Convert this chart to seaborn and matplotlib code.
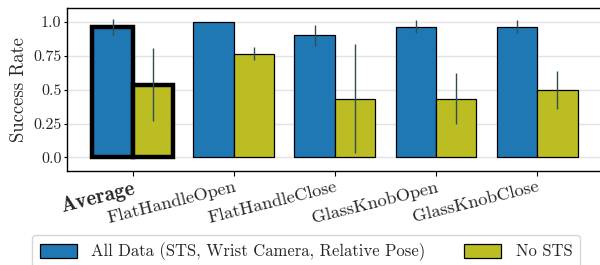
import matplotlib
matplotlib.use("Agg")
import matplotlib.pyplot as plt
import seaborn as sns
import pandas as pd
import numpy as np

categories = ["Average", "FlatHandleOpen", "FlatHandleClose", "GlassKnobOpen", "GlassKnobClose"]
series_names = ["All Data (STS, Wrist Camera, Relative Pose)", "No STS"]
all_data_mean = [0.965, 1.0, 0.90, 0.966, 0.966]
all_data_err = [0.06, 0.0, 0.08, 0.047, 0.047]
no_sts_mean = [0.537, 0.767, 0.434, 0.434, 0.50]
no_sts_err = [0.27, 0.045, 0.40, 0.19, 0.14]
ytick_vals = [0.0, 0.25, 0.5, 0.75, 1.0]
ytick_labels = ["0.0", "0.25", "0.5", "0.75", "1.0"]

sns.set_theme(style="white")
plt.rcParams["font.family"] = ["cmr10", "DejaVu Serif"]
plt.rcParams["mathtext.fontset"] = "cm"
plt.rcParams["axes.unicode_minus"] = False

df = pd.DataFrame({
    "Task": categories * 2,
    "Config": [series_names[0]] * len(categories) + [series_names[1]] * len(categories),
    "Success Rate": all_data_mean + no_sts_mean,
    "err": all_data_err + no_sts_err,
})

fig = plt.figure(figsize=(6.0, 2.65), dpi=100)
ax = fig.add_axes([0.1117, 0.353, 0.893, 0.617])

palette = {series_names[0]: "#1f77b4", series_names[1]: "#bcbd22"}
sns.barplot(data=df, x="Task", y="Success Rate", hue="Config", palette=palette,
            errorbar=None, width=0.8, edgecolor="black", linewidth=0.9,
            saturation=1.0, ax=ax, legend=True)

# error bars positioned at bar centres
n = len(categories)
bars = [p for p in ax.patches if p.get_width() > 0][: 2 * n]
for i, p in enumerate(bars):
    cx = p.get_x() + p.get_width() / 2
    h = p.get_height()
    e = df["err"].iloc[i]
    if e > 0:
        ax.errorbar(cx, h, yerr=e, color="darkslategray", lw=1.0, capsize=0, zorder=5)
    if i % n == 0:
        p.set_linewidth(3.2)

ax.set_xlim(-0.65, 4.65)
ax.set_ylim(-0.103, 1.103)
ax.set_yticks(ytick_vals)
ax.set_yticklabels(ytick_labels, fontsize=11.5)
ax.yaxis.grid(True, color="#e3e3e3", lw=1.0)
ax.set_axisbelow(True)
ax.tick_params(axis="y", length=2, width=0.8, left=True, pad=2, color="black")
ax.tick_params(axis="x", length=3.5, width=0.8, direction="out", bottom=True, pad=2, color="black")
ax.set_xlabel("")
ax.set_ylabel("Success Rate", fontsize=13.5, labelpad=4)

ax.set_xticks(range(n))
ax.set_xticklabels(categories, rotation=14, ha="right", rotation_mode="anchor", fontsize=13.2)
lbl0 = ax.get_xticklabels()[0]
lbl0.set_fontfamily("cmb10")
lbl0.set_fontsize(15)

for s in ["left", "bottom", "top"]:
    ax.spines[s].set_visible(True)
    ax.spines[s].set_color("black")
    ax.spines[s].set_linewidth(1.0)
ax.spines["right"].set_visible(False)

handles, labels = ax.get_legend_handles_labels()
ax.legend_.remove()
leg = fig.legend(handles, labels, loc="upper center", bbox_to_anchor=(0.51, 0.113),
                 borderaxespad=0.0, ncol=2, fontsize=12.0, frameon=True,
                 handlelength=2.25, handleheight=0.9, handletextpad=0.85,
                 columnspacing=2.3, borderpad=0.45,
                 edgecolor="#cccccc", fancybox=True)
leg.get_frame().set_linewidth(1.0)

fig.savefig("out.png", dpi=100)
